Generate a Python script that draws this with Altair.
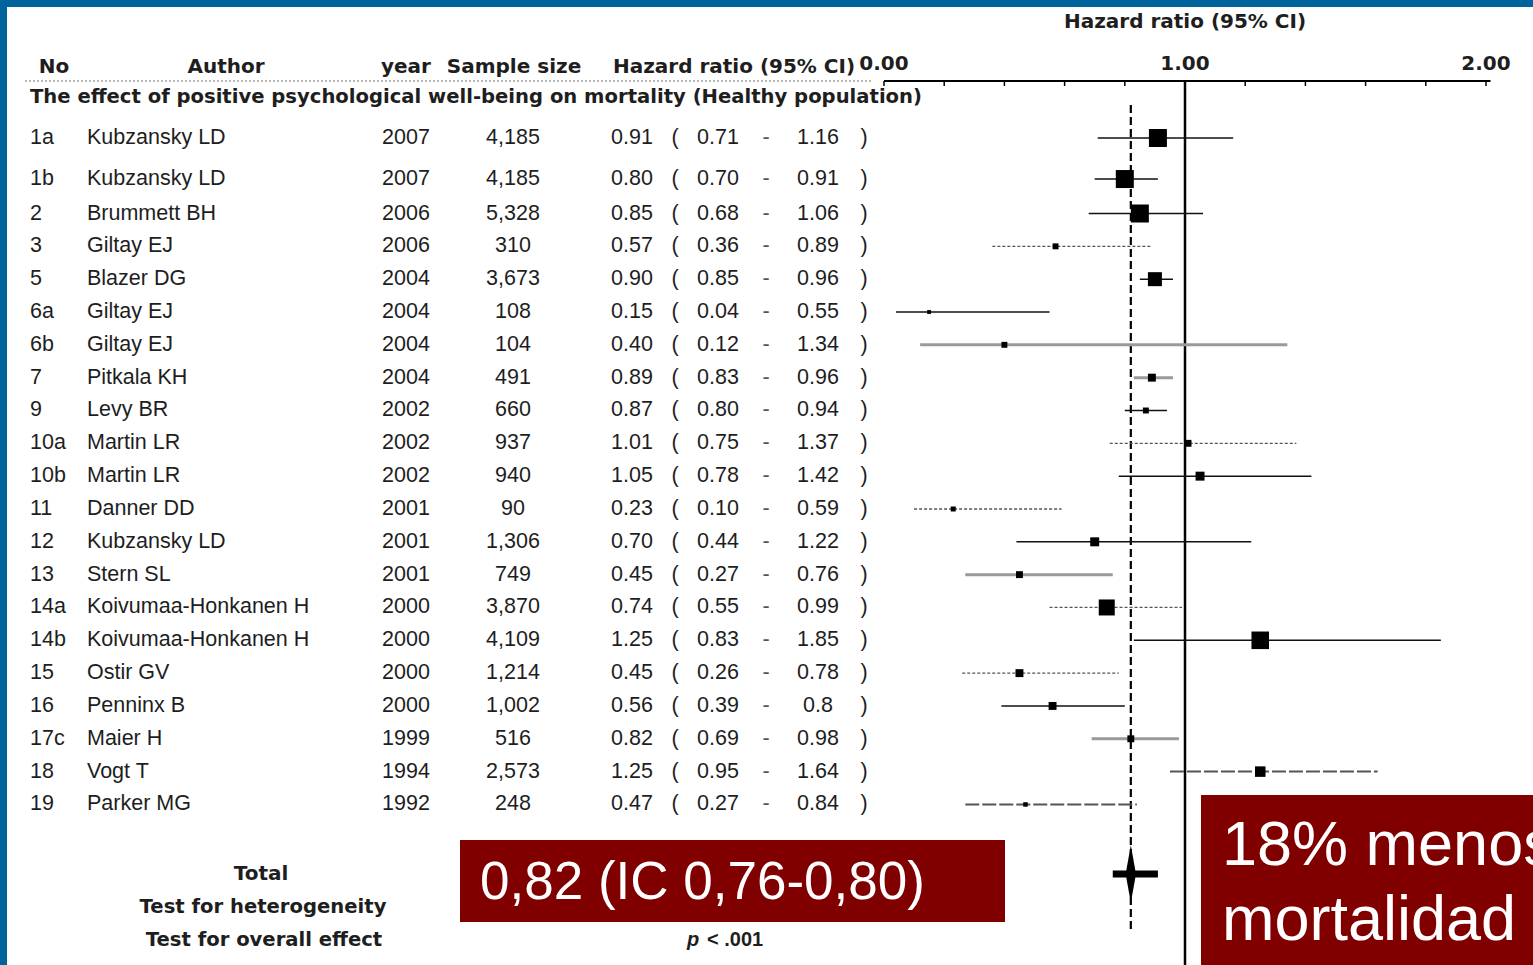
import altair as alt
import pandas as pd

# ---- study table -------------------------------------------------------
study_no = ["1a", "1b", "2", "3", "5", "6a", "6b", "7", "9", "10a", "10b",
            "11", "12", "13", "14a", "14b", "15", "16", "17c", "18", "19"]
authors = ["Kubzansky LD", "Kubzansky LD", "Brummett BH", "Giltay EJ", "Blazer DG",
           "Giltay EJ", "Giltay EJ", "Pitkala KH", "Levy BR", "Martin LR", "Martin LR",
           "Danner DD", "Kubzansky LD", "Stern SL", "Koivumaa-Honkanen H",
           "Koivumaa-Honkanen H", "Ostir GV", "Penninx B", "Maier H", "Vogt T", "Parker MG"]
years = ["2007", "2007", "2006", "2006", "2004", "2004", "2004", "2004", "2002", "2002",
         "2002", "2001", "2001", "2001", "2000", "2000", "2000", "2000", "1999", "1994", "1992"]
sample_sizes = ["4,185", "4,185", "5,328", "310", "3,673", "108", "104", "491", "660", "937",
                "940", "90", "1,306", "749", "3,870", "4,109", "1,214", "1,002", "516",
                "2,573", "248"]
hr_txt = ["0.91", "0.80", "0.85", "0.57", "0.90", "0.15", "0.40", "0.89", "0.87", "1.01",
          "1.05", "0.23", "0.70", "0.45", "0.74", "1.25", "0.45", "0.56", "0.82", "1.25", "0.47"]
lo_txt = ["0.71", "0.70", "0.68", "0.36", "0.85", "0.04", "0.12", "0.83", "0.80", "0.75",
          "0.78", "0.10", "0.44", "0.27", "0.55", "0.83", "0.26", "0.39", "0.69", "0.95", "0.27"]
hi_txt = ["1.16", "0.91", "1.06", "0.89", "0.96", "0.55", "1.34", "0.96", "0.94", "1.37",
          "1.42", "0.59", "1.22", "0.76", "0.99", "1.85", "0.78", "0.8", "0.98", "1.64", "0.84"]
# study weights (%), drawn as square area
weights = [12.9, 12.9, 12.9, 1.4, 7.8, 0.6, 1.4, 2.5, 1.4, 1.9, 3.2,
           1.0, 3.2, 1.9, 10.2, 12.3, 2.5, 2.5, 1.9, 4.4, 0.8]
line_style = ["solid", "solid", "solid", "dot", "solid", "solid", "gray", "gray", "solid",
              "dot", "solid", "dot", "solid", "gray", "dot", "solid", "dot", "solid",
              "gray", "mixed", "mixed"]

# pooled estimate
total_hr, total_lo, total_hi = 0.82, 0.76, 0.91
axis_ticks = [0.0, 0.2, 0.4, 0.6, 0.8, 1.0, 1.2, 1.4, 1.6, 1.8, 2.0]
axis_labels = ["0.00", "1.00", "2.00"]
axis_label_at = [0.0, 1.0, 2.0]

# ---- layout ------------------------------------------------------------
W, H = 1533, 965
ROW = 32.83          # px per table row
TOP = 138            # px position of the first row
X0, PPU = 884, 301   # px of HR = 0 and px per HR unit
row_slot = [0.0, 1.25] + [2.3 + i for i in range(19)]
total_slot = 22.42

FONT = "Liberation Sans"
BOLD = "DejaVu Sans"
INK = "#1e1e1e"
RED = "#800000"
BLUE = "#00639c"

df = pd.DataFrame(dict(
    no=study_no, author=authors, year=years, n=sample_sizes,
    hr_txt=hr_txt, lo_txt=lo_txt, hi_txt=hi_txt,
    hr=[float(v) for v in hr_txt], lo=[float(v) for v in lo_txt],
    hi=[float(v) for v in hi_txt], weight=weights, style=line_style, slot=row_slot,
))

yscale = alt.Scale(domain=[-TOP / ROW, (H - TOP) / ROW], reverse=True, nice=False, zero=False)
xscale = alt.Scale(domain=[-X0 / PPU, (W - X0) / PPU], nice=False, zero=False)
Y = alt.Y("slot:Q", scale=yscale, axis=None)


def hx(field):
    return alt.X(f"{field}:Q", scale=xscale, axis=None)


one = pd.DataFrame({"k": [0]})
base = alt.Chart(df)
layers = []


def column(field, x, align="center"):
    return base.mark_text(align=align, baseline="middle", font=FONT, fontSize=21.5,
                          color=INK).encode(x=alt.value(x), y=Y, text=f"{field}:N")


def fixed(text, x, align="center", size=21.5, color=INK):
    return base.mark_text(text=text, align=align, baseline="middle", font=FONT,
                          fontSize=size, color=color).encode(x=alt.value(x), y=Y)


def label(text, x, y, align="center", size=20, font=BOLD, weight="bold",
          color=INK, style="normal"):
    return alt.Chart(one).mark_text(
        text=text, align=align, baseline="middle", font=font, fontSize=size,
        fontWeight=weight, color=color, fontStyle=style,
    ).encode(x=alt.value(x), y=alt.value(y))


# table body
layers += [
    column("no", 30, "left"),
    column("author", 87, "left"),
    column("year", 406),
    column("n", 513),
    column("hr_txt", 632),
    fixed("(", 675),
    column("lo_txt", 718),
    fixed("-", 766, color="#555555"),
    column("hi_txt", 818),
    fixed(")", 864),
]

# table header
layers += [
    label("No", 54, 67),
    label("Author", 226, 67),
    label("year", 406, 67),
    label("Sample size", 514, 67),
    label("Hazard ratio (95% CI)", 734, 67),
    alt.Chart(one).mark_rule(color="#777777", strokeDash=[2, 2], strokeWidth=1.2).encode(
        x=alt.value(25), x2=alt.value(872), y=alt.value(81)),
    label("The effect of positive psychological well-being on mortality (Healthy population)",
          30, 97, align="left", size=19.6),
    label("Total", 261, 874),
    label("Test for heterogeneity", 263, 907, size=19.6),
    label("Test for overall effect", 264, 940, size=19.6),
    label("p", 687, 940, align="left", font=FONT, size=20, style="italic"),
    label("< .001", 707, 940, align="left", font=FONT, size=20),
]

# HR axis
layers += [
    alt.Chart(pd.DataFrame({"a": [0.0], "b": [2.015]})).mark_rule(
        color="black", strokeWidth=2).encode(x=hx("a"), x2="b:Q", y=alt.value(81)),
    alt.Chart(pd.DataFrame({"t": axis_ticks})).mark_rule(
        color="black", strokeWidth=1.5).encode(x=hx("t"), y=alt.value(81), y2=alt.value(86)),
    alt.Chart(pd.DataFrame({"t": axis_label_at, "lab": axis_labels})).mark_text(
        baseline="middle", font=BOLD, fontSize=20, fontWeight="bold", color=INK).encode(
        x=hx("t"), y=alt.value(64), text="lab:N"),
    alt.Chart(pd.DataFrame({"t": [1.0]})).mark_text(
        text="Hazard ratio (95% CI)", baseline="middle", font=BOLD, fontSize=20,
        fontWeight="bold", color=INK).encode(x=hx("t"), y=alt.value(22)),
    alt.Chart(pd.DataFrame({"v": [1.0]})).mark_rule(color="black", strokeWidth=2.5).encode(
        x=hx("v"), y=alt.value(80), y2=alt.value(H)),
    alt.Chart(pd.DataFrame({"v": [total_hr]})).mark_rule(
        color="black", strokeWidth=2.2, strokeDash=[8, 4]).encode(
        x=hx("v"), y=alt.value(105), y2=alt.value(930)),
]

# confidence intervals
ci_styles = {
    "solid": dict(color="#111111", strokeWidth=1.5),
    "gray": dict(color="#9a9a9a", strokeWidth=3),
    "dot": dict(color="#555555", strokeWidth=1.3, strokeDash=[3, 2]),
    "mixed": dict(color="#555555", strokeWidth=2, strokeDash=[14, 3]),
}
for name, props in ci_styles.items():
    layers.append(
        base.transform_filter(alt.datum.style == name).mark_rule(**props).encode(
            x=hx("lo"), x2="hi:Q", y=Y))

# study estimates
layers.append(
    base.mark_square(filled=True, color="black", opacity=1).encode(
        x=hx("hr"), y=Y,
        size=alt.Size("weight:Q", scale=alt.Scale(domain=[0, 12.9], range=[0, 324]),
                      legend=None)))

# pooled estimate
tot = pd.DataFrame({"hr": [total_hr], "lo": [total_lo], "hi": [total_hi],
                    "slot": [total_slot]})
layers += [
    alt.Chart(tot).mark_rule(color="black", strokeWidth=7).encode(
        x=hx("lo"), x2="hi:Q", y=Y),
    alt.Chart(tot).mark_point(
        shape="M0,-1L0.18,0L0,1L-0.18,0Z", filled=True, color="black", opacity=1,
        size=3300).encode(x=hx("hr"), y=Y),
]

# slide callouts and frame
layers += [
    alt.Chart(one).mark_rect(color=RED).encode(
        x=alt.value(460), x2=alt.value(1005), y=alt.value(840), y2=alt.value(922)),
    label("0,82 (IC 0,76-0,80)", 480, 883, align="left", size=53, font=FONT,
          weight="normal", color="white"),
    alt.Chart(one).mark_rect(color=RED).encode(
        x=alt.value(1201), x2=alt.value(W + 5), y=alt.value(795), y2=alt.value(H + 5)),
    label("18% menos", 1222, 846, align="left", size=63, font=FONT,
          weight="normal", color="white"),
    label("mortalidad", 1222, 921, align="left", size=63, font=FONT,
          weight="normal", color="white"),
    alt.Chart(one).mark_rect(color=BLUE).encode(
        x=alt.value(0), x2=alt.value(W), y=alt.value(0), y2=alt.value(7)),
    alt.Chart(one).mark_rect(color=BLUE).encode(
        x=alt.value(0), x2=alt.value(7), y=alt.value(0), y2=alt.value(H)),
]

chart = alt.layer(*layers).properties(
    width=W, height=H, padding=0, autosize="none", background="white"
).configure_view(stroke=None)

chart.save("out.html", embed_options={"renderer": "svg", "actions": False})
